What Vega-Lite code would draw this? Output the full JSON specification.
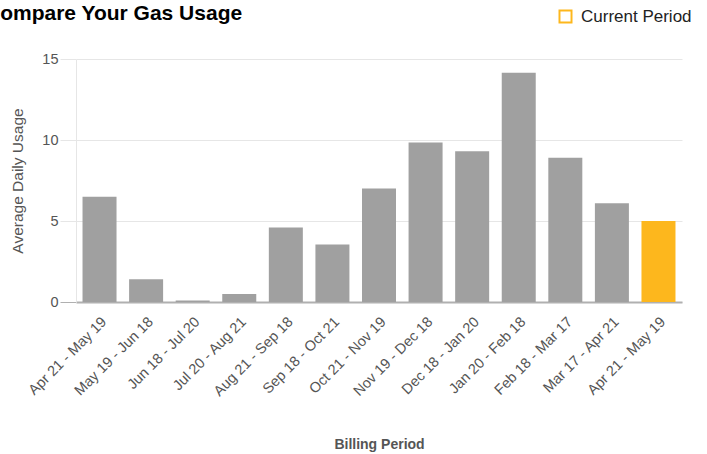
{
  "$schema": "https://vega.github.io/schema/vega-lite/v6.json",
  "autosize": {"type": "none"},
  "width": 606,
  "height": 243,
  "padding": {"left": 76, "top": 59, "right": 25, "bottom": 152},
  "background": "white",
  "config": {
    "font": "Liberation Sans",
    "view": {"stroke": null}
  },
  "title": {
    "text": "Compare Your Gas Usage",
    "anchor": "start",
    "frame": "group",
    "dx": -91,
    "fontSize": 21,
    "fontWeight": "bold",
    "color": "#000000",
    "font": "Liberation Sans",
    "baseline": "alphabetic",
    "offset": -33
  },
  "data": {
    "values": [
      {"period": "Apr 21 - May 19", "usage": 6.5, "type": "Past"},
      {"period": "May 19 - Jun 18", "usage": 1.4, "type": "Past"},
      {"period": "Jun 18 - Jul 20", "usage": 0.1, "type": "Past"},
      {"period": "Jul 20 - Aug 21", "usage": 0.5, "type": "Past"},
      {"period": "Aug 21 - Sep 18", "usage": 4.6, "type": "Past"},
      {"period": "Sep 18 - Oct 21", "usage": 3.55, "type": "Past"},
      {"period": "Oct 21 - Nov 19", "usage": 7.0, "type": "Past"},
      {"period": "Nov 19 - Dec 18", "usage": 9.85, "type": "Past"},
      {"period": "Dec 18 - Jan 20", "usage": 9.3, "type": "Past"},
      {"period": "Jan 20 - Feb 18", "usage": 14.15, "type": "Past"},
      {"period": "Feb 18 - Mar 17", "usage": 8.9, "type": "Past"},
      {"period": "Mar 17 - Apr 21", "usage": 6.1, "type": "Past"},
      {"period": "Apr 21 - May 19 ", "usage": 5.0, "type": "Current Period"}
    ]
  },
  "mark": {"type": "bar"},
  "encoding": {
    "x": {
      "field": "period",
      "type": "ordinal",
      "sort": null,
      "scale": {"paddingInner": 0.27, "paddingOuter": 0.14},
      "axis": {
        "title": "Billing Period",
        "titleFontSize": 14,
        "titleFontWeight": "bold",
        "titleColor": "#555555",
        "titlePadding": 39,
        "labelExpr": "trim(datum.value)",
        "labelAngle": -45,
        "labelAlign": "right",
        "labelBaseline": "top",
        "labelFontSize": 14.5,
        "labelColor": "#555555",
        "labelPadding": 12.5,
        "ticks": false,
        "domainColor": "#b0b0b0",
        "domainWidth": 2,
        "grid": false
      }
    },
    "y": {
      "field": "usage",
      "type": "quantitative",
      "scale": {"domain": [0, 15]},
      "axis": {
        "title": "Average Daily Usage",
        "titleFontSize": 15.5,
        "titleFontWeight": "normal",
        "titleColor": "#555555",
        "titlePadding": 16,
        "values": [0, 5, 10, 15],
        "labelFontSize": 14.5,
        "labelColor": "#555555",
        "labelPadding": 2,
        "tickSize": 16,
        "tickColor": {"condition": {"test": "datum.value === 0", "value": "#b0b0b0"}, "value": "#e6e6e6"},
        "domainColor": "#e6e6e6",
        "gridColor": "#e6e6e6"
      }
    },
    "color": {
      "field": "type",
      "type": "nominal",
      "scale": {"domain": ["Current Period", "Past"], "range": ["#fdb71d", "#a0a0a0"]},
      "legend": {
        "values": ["Current Period"],
        "title": null,
        "orient": "none",
        "legendX": 481,
        "legendY": -51,
        "padding": 0,
        "symbolType": "M-1,-1H1V1H-1Z M-0.72,-0.72V0.72H0.72V-0.72Z",
        "symbolSize": 196,
        "symbolStrokeWidth": 0,
        "labelFontSize": 17,
        "labelColor": "#222222",
        "labelOffset": 7
      }
    }
  }
}
